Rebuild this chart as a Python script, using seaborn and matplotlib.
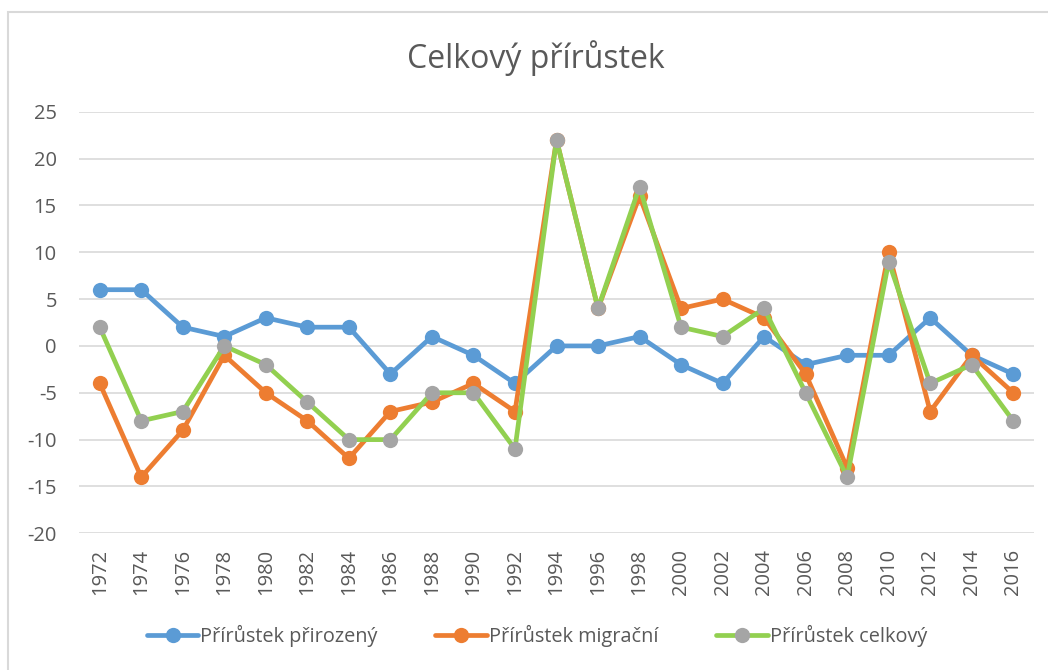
import matplotlib
matplotlib.use("Agg")
import matplotlib.pyplot as plt
from matplotlib.patches import Rectangle
from matplotlib.lines import Line2D
import seaborn as sns
import pandas as pd

years = list(range(1972, 2017, 2))
prirozeny = [6, 6, 2, 1, 3, 2, 2, -3, 1, -1, -4, 0, 0, 1, -2, -4, 1, -2, -1, -1, 3, -1, -3]
migracni = [-4, -14, -9, -1, -5, -8, -12, -7, -6, -4, -7, 22, 4, 16, 4, 5, 3, -3, -13, 10, -7, -1, -5]
celkovy = [2, -8, -7, 0, -2, -6, -10, -10, -5, -5, -11, 22, 4, 17, 2, 1, 4, -5, -14, 9, -4, -2, -8]
series_names = ["Přírůstek přirozený", "Přírůstek migrační", "Přírůstek celkový"]
y_ticks = list(range(-20, 30, 5))

sns.set_style("white")
plt.rcParams['font.family'] = ['Open Sans', 'DejaVu Sans']
plt.rcParams['axes.unicode_minus'] = False
txt = "#595959"

df = pd.DataFrame({"rok": years, series_names[0]: prirozeny,
                   series_names[1]: migracni, series_names[2]: celkovy})

fig = plt.figure(figsize=(10.48, 6.70), dpi=100)
ax = fig.add_axes([79/1048, 1-533.3/670, 955/1048, 421.6/670])

# line colour, marker colour
styles = [("#5B9BD5", "#5B9BD5"), ("#ED7D31", "#ED7D31"), ("#92D050", "#A5A5A5")]
handles = []
for name, (lc, mc) in zip(series_names, styles):
    sns.lineplot(data=df, x="rok", y=name, ax=ax, color=lc, linewidth=3.4,
                 marker="o", markersize=11, markerfacecolor=mc, markeredgecolor=mc,
                 markeredgewidth=0, legend=False)
    handles.append(Line2D([], [], color=lc, linewidth=3.4, marker="o", markersize=11,
                          markerfacecolor=mc, markeredgecolor=mc, markeredgewidth=0))

ax.set_xlim(years[0] - 1, years[-1] + 1)
ax.set_ylim(-20, 25)
ax.set_yticks(y_ticks)
ax.set_xticks(years)
ax.set_xticklabels([str(y) for y in years], rotation=90)
ax.set_xlabel("")
ax.set_ylabel("")
ax.grid(axis="y", color="#D9D9D9", linewidth=1.2)
ax.set_axisbelow(True)
for s in ax.spines.values():
    s.set_visible(False)
ax.tick_params(axis="y", length=0, pad=16, labelsize=14.5, labelcolor=txt)
ax.tick_params(axis="x", length=0, pad=11, labelsize=14.5, labelcolor=txt)

fig.text(536/1048, 1-58/670, "Celkový přírůstek", ha="center", va="center",
         fontsize=23, color=txt)

fig.legend(handles, series_names, loc="center", bbox_to_anchor=(537/1048, 1-636/670),
           ncol=3, frameon=False, fontsize=14.3, handlelength=2.6, handletextpad=0.1,
           columnspacing=2.9, labelcolor=txt)

fig.patches.append(Rectangle((8/1048, -0.1), 1.2, 1.1 - 12/670, transform=fig.transFigure,
                             fill=False, edgecolor="#D9D9D9", linewidth=1.5))

fig.savefig("out.png", dpi=100)
